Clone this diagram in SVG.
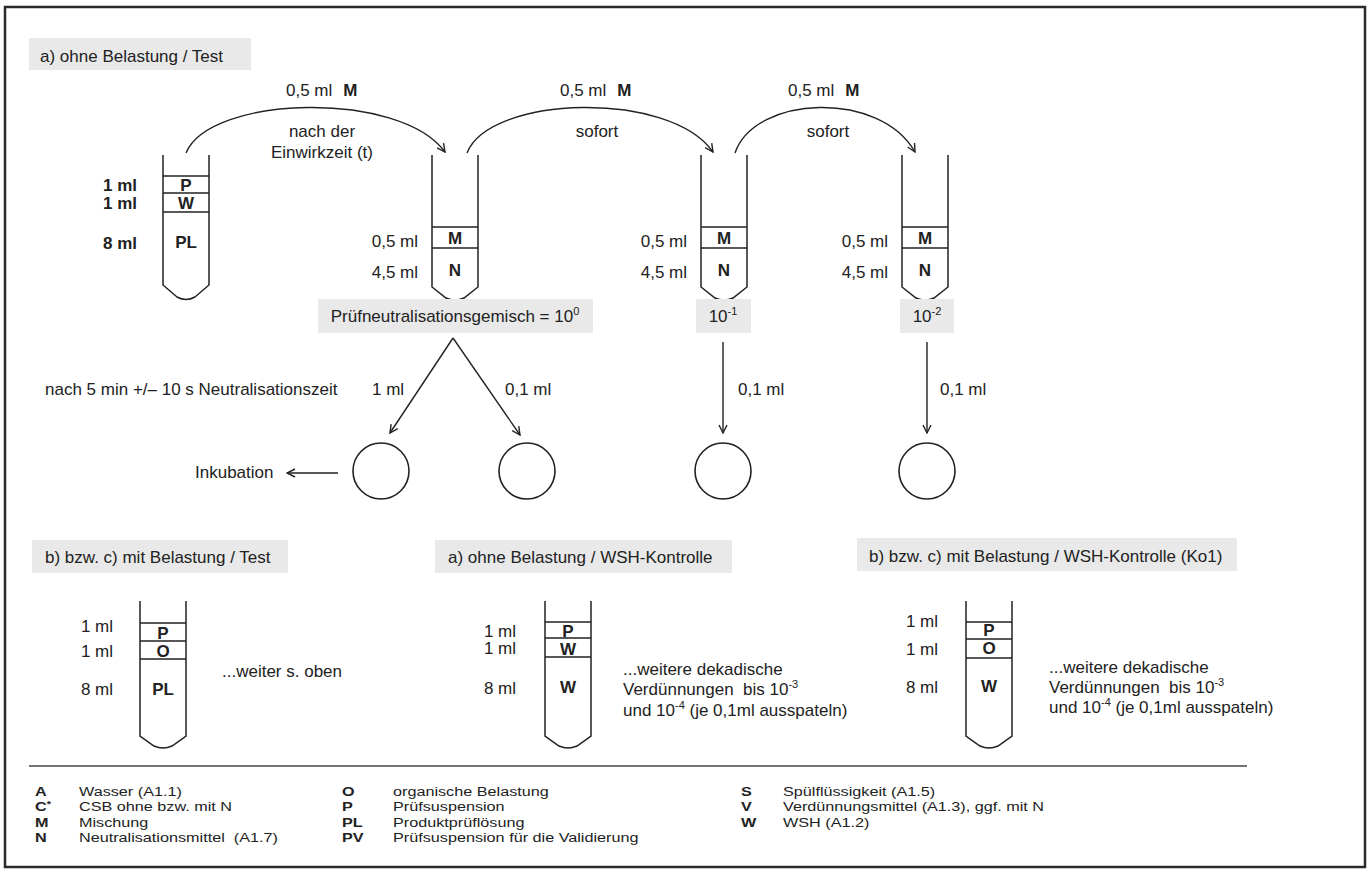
<svg xmlns="http://www.w3.org/2000/svg" width="1371" height="869" viewBox="0 0 1371 869">
<defs>
<style>
text { font-family: "Liberation Sans", Arial, Helvetica, sans-serif; font-size: 17px; fill: #222; }
.b { font-weight: bold; }
.mid { text-anchor: middle; }
.end { text-anchor: end; }
.tube { fill: none; stroke: #222; stroke-width: 1.5; }
.hdr { fill: #e9e9e9; }
.conn { fill: none; stroke: #222; stroke-width: 1.4; }
.dish { fill: none; stroke: #222; stroke-width: 1.6; }
.sup { font-size: 11px; }
.lg text { font-size: 13.5px; }
.lg .sup { font-size: 9px; }
</style>
<marker id="ah" viewBox="0 0 10 10" refX="9" refY="5" markerWidth="10" markerHeight="10" markerUnits="userSpaceOnUse" orient="auto">
<path d="M1,1 L9,5 L1,9" fill="none" stroke="#222" stroke-width="1.4"/>
</marker>
</defs>
<rect x="5" y="7" width="1360" height="860" fill="#fff" stroke="#2a2a2a" stroke-width="2.5"/>

<g id="header-a-test">
<rect class="hdr" x="29" y="38" width="222" height="32"/>
<text x="40" y="62">a) ohne Belastung / Test</text>
</g>

<g id="tube1">
<path class="tube" d="M163,155 V285 L177,297 Q186,302 195,297 L209,285 V155 M163,176 H209 M163,193 H209 M163,212 H209"/>
<text class="b end" x="137" y="191">1 ml</text>
<text class="b end" x="137" y="209">1 ml</text>
<text class="b end" x="137" y="249">8 ml</text>
<text class="b mid" x="186" y="191">P</text>
<text class="b mid" x="186" y="209">W</text>
<text class="b mid" x="186" y="248">PL</text>
</g>

<g id="tube2">
<path class="tube" d="M432,155 V287 L446,298 Q455,302 464,298 L478,287 V155 M432,227 H478 M432,248 H478"/>
<text class="end" x="418" y="247">0,5 ml</text>
<text class="end" x="418" y="278">4,5 ml</text>
<text class="b mid" x="455" y="244">M</text>
<text class="b mid" x="455" y="276">N</text>
</g>

<g id="tube3">
<path class="tube" d="M701,155 V287 L715,298 Q724,302 733,298 L747,287 V155 M701,227 H747 M701,248 H747"/>
<text class="end" x="687" y="247">0,5 ml</text>
<text class="end" x="687" y="278">4,5 ml</text>
<text class="b mid" x="724" y="244">M</text>
<text class="b mid" x="724" y="276">N</text>
</g>

<g id="tube4">
<path class="tube" d="M902,155 V287 L916,298 Q925,302 934,298 L948,287 V155 M902,227 H948 M902,248 H948"/>
<text class="end" x="888" y="247">0,5 ml</text>
<text class="end" x="888" y="278">4,5 ml</text>
<text class="b mid" x="925" y="244">M</text>
<text class="b mid" x="925" y="276">N</text>
</g>

<g id="label-10-0">
<rect class="hdr" x="318" y="299" width="275" height="34"/>
<text class="mid" x="455" y="322">Prüfneutralisationsgemisch = 10<tspan class="sup" dy="-7">0</tspan></text>
</g>
<g id="label-10-1">
<rect class="hdr" x="696" y="299" width="55" height="34"/>
<text class="mid" x="723" y="322">10<tspan class="sup" dy="-7">-1</tspan></text>
</g>
<g id="label-10-2">
<rect class="hdr" x="900" y="299" width="54" height="34"/>
<text class="mid" x="927" y="322">10<tspan class="sup" dy="-7">-2</tspan></text>
</g>

<g id="dish1"><circle class="dish" cx="381" cy="471" r="28"/></g>
<g id="dish2"><circle class="dish" cx="527" cy="471" r="28"/></g>
<g id="dish3"><circle class="dish" cx="723" cy="471" r="28"/></g>
<g id="dish4"><circle class="dish" cx="927" cy="471" r="28"/></g>

<g id="inkubation">
<text x="195" y="478">Inkubation</text>
</g>

<g id="connectors">
<path class="conn" d="M186,153 C210,95 400,90 445,152" marker-end="url(#ah)"/>
<path class="conn" d="M467,153 C490,95 670,90 713,152" marker-end="url(#ah)"/>
<path class="conn" d="M735,153 C755,95 880,90 915,152" marker-end="url(#ah)"/>
<path class="conn" d="M453,338 L390,433" marker-end="url(#ah)"/>
<path class="conn" d="M453,338 L520,435" marker-end="url(#ah)"/>
<path class="conn" d="M723,342 V433" marker-end="url(#ah)"/>
<path class="conn" d="M927,342 V433" marker-end="url(#ah)"/>
<path class="conn" d="M338,473 H287" marker-end="url(#ah)"/>
<text x="286" y="96">0,5 ml<tspan class="b" dx="11">M</tspan></text>
<text class="mid" x="322" y="137">nach der</text>
<text class="mid" x="322" y="158">Einwirkzeit (t)</text>
<text x="560" y="96">0,5 ml<tspan class="b" dx="11">M</tspan></text>
<text class="mid" x="597" y="137">sofort</text>
<text x="788" y="96">0,5 ml<tspan class="b" dx="11">M</tspan></text>
<text class="mid" x="828" y="137">sofort</text>
<text x="45" y="395">nach 5 min +/– 10 s Neutralisationszeit</text>
<text x="372" y="395">1 ml</text>
<text x="505" y="395">0,1 ml</text>
<text x="738" y="395">0,1 ml</text>
<text x="940" y="395">0,1 ml</text>
</g>

<g id="header-b-test">
<rect class="hdr" x="32" y="540" width="256" height="33"/>
<text x="45" y="563">b) bzw. c) mit Belastung / Test</text>
</g>
<g id="header-a-wsh">
<rect class="hdr" x="435" y="540" width="297" height="33"/>
<text x="448" y="563">a) ohne Belastung / WSH-Kontrolle</text>
</g>
<g id="header-b-wsh">
<rect class="hdr" x="857" y="538" width="380" height="33"/>
<text x="869" y="562">b) bzw. c) mit Belastung / WSH-Kontrolle (Ko1)</text>
</g>

<g id="tubeB1">
<path class="tube" d="M140,601 V736 L154,746 Q163,750 172,746 L186,736 V601 M140,623 H186 M140,641 H186 M140,659 H186"/>
<text class="end" x="113" y="632">1 ml</text>
<text class="end" x="113" y="657">1 ml</text>
<text class="end" x="113" y="695">8 ml</text>
<text class="b mid" x="163" y="639">P</text>
<text class="b mid" x="163" y="657">O</text>
<text class="b mid" x="163" y="695">PL</text>
<text x="222" y="677">...weiter s. oben</text>
</g>

<g id="tubeB2">
<path class="tube" d="M545,601 V736 L559,746 Q568,750 577,746 L591,736 V601 M545,622 H591 M545,638 H591 M545,657 H591"/>
<text class="end" x="516" y="637">1 ml</text>
<text class="end" x="516" y="654">1 ml</text>
<text class="end" x="516" y="694">8 ml</text>
<text class="b mid" x="568" y="637">P</text>
<text class="b mid" x="568" y="655">W</text>
<text class="b mid" x="568" y="693">W</text>
<text x="623" y="675">...weitere dekadische</text>
<text x="623" y="695" xml:space="preserve">Verdünnungen  bis 10<tspan class="sup" dy="-7">-3</tspan></text>
<text x="623" y="716">und 10<tspan class="sup" dy="-7">-4</tspan><tspan dy="7"> (je 0,1ml ausspateln)</tspan></text>
</g>

<g id="tubeB3">
<path class="tube" d="M966,601 V736 L980,746 Q989,750 998,746 L1012,736 V601 M966,622 H1012 M966,639 H1012 M966,658 H1012"/>
<text class="end" x="938" y="627">1 ml</text>
<text class="end" x="938" y="655">1 ml</text>
<text class="end" x="938" y="693">8 ml</text>
<text class="b mid" x="989" y="636">P</text>
<text class="b mid" x="989" y="654">O</text>
<text class="b mid" x="989" y="692">W</text>
<text x="1049" y="673">...weitere dekadische</text>
<text x="1049" y="693" xml:space="preserve">Verdünnungen  bis 10<tspan class="sup" dy="-7">-3</tspan></text>
<text x="1049" y="713">und 10<tspan class="sup" dy="-7">-4</tspan><tspan dy="7"> (je 0,1ml ausspateln)</tspan></text>
</g>

<g id="legend">
<line x1="29" y1="766" x2="1247" y2="766" stroke="#444" stroke-width="1.3"/>
<g class="lg" transform="scale(1.2 1)">
<text class="b" x="29.2" y="796">A</text><text x="65.8" y="796">Wasser (A1.1)</text>
<text class="b" x="29.2" y="811.5">C<tspan class="sup" dy="-4">*</tspan></text><text x="65.8" y="811.5">CSB ohne bzw. mit N</text>
<text class="b" x="29.2" y="827">M</text><text x="65.8" y="827">Mischung</text>
<text class="b" x="29.2" y="842.5">N</text><text x="65.8" y="842.5" xml:space="preserve">Neutralisationsmittel  (A1.7)</text>
<text class="b" x="285" y="796">O</text><text x="327.5" y="796">organische Belastung</text>
<text class="b" x="285" y="811.5">P</text><text x="327.5" y="811.5">Prüfsuspension</text>
<text class="b" x="285" y="827">PL</text><text x="327.5" y="827">Produktprüflösung</text>
<text class="b" x="285" y="842.5">PV</text><text x="327.5" y="842.5">Prüfsuspension für die Validierung</text>
<text class="b" x="617.5" y="796">S</text><text x="652.5" y="796">Spülflüssigkeit (A1.5)</text>
<text class="b" x="617.5" y="811.5">V</text><text x="652.5" y="811.5">Verdünnungsmittel (A1.3), ggf. mit N</text>
<text class="b" x="617.5" y="827">W</text><text x="652.5" y="827">WSH (A1.2)</text>
</g>
</g>
</svg>
